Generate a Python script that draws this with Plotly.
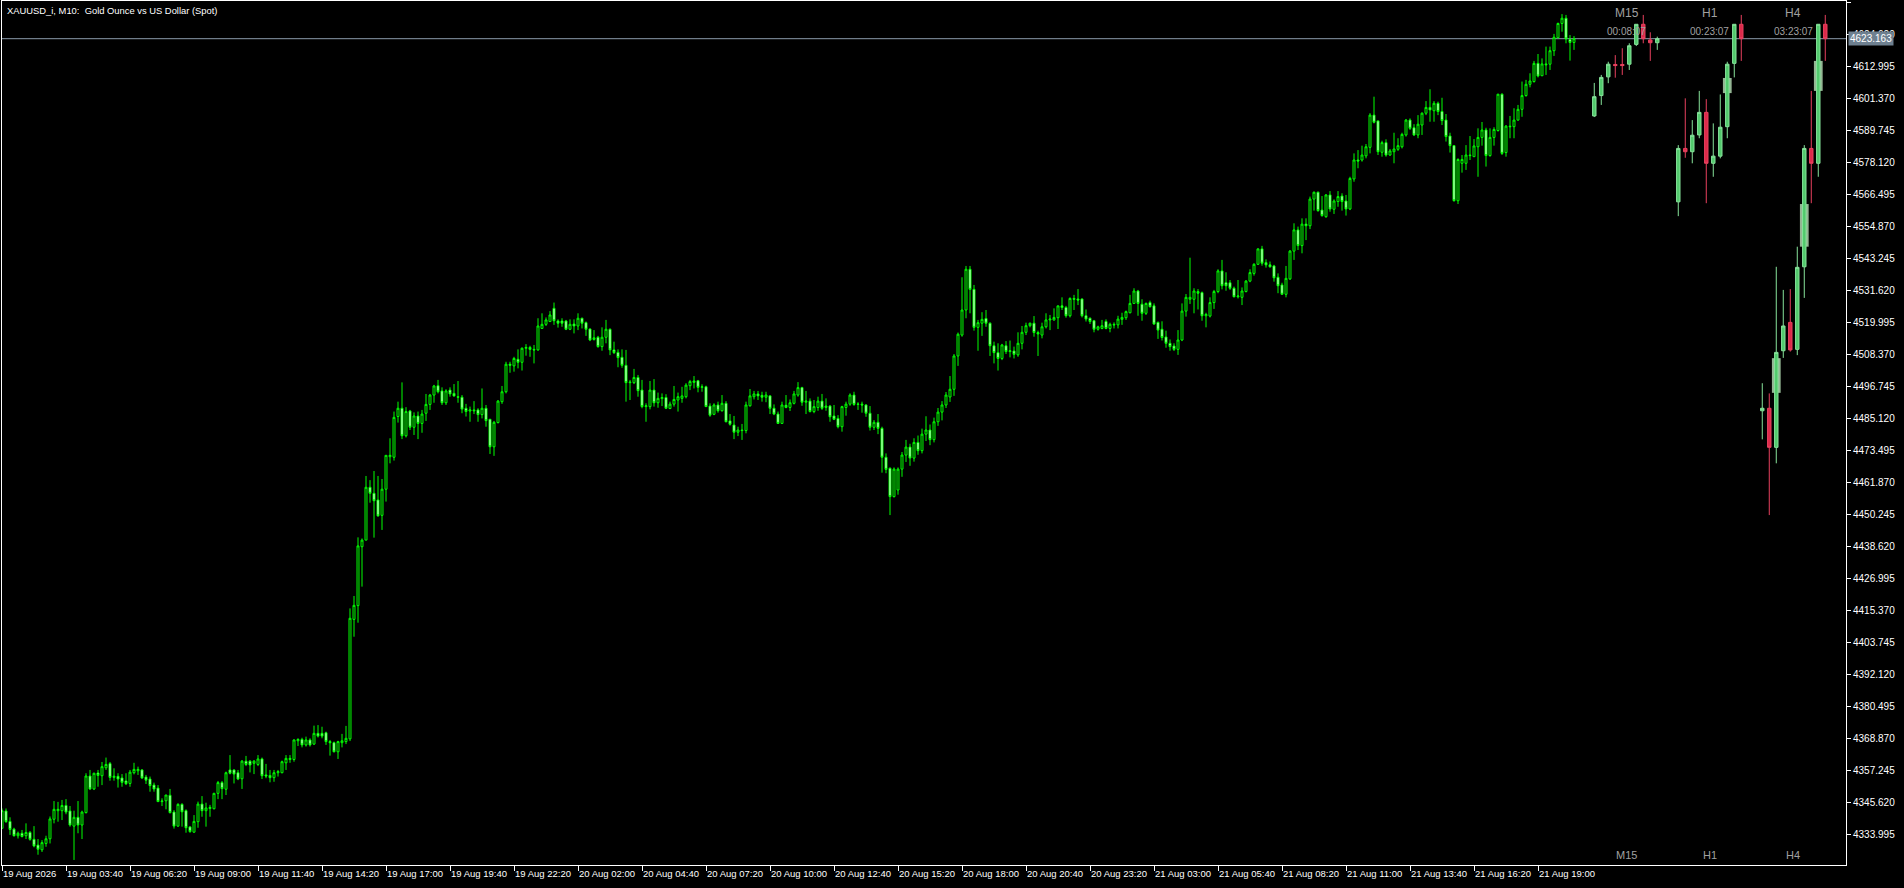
import plotly.graph_objects as go

# ---------------- main M10 candles (XAUUSD) ----------------
opens = [
4336.3,4342.6,4338.8,4336.0,4333.6,4334.5,4333.6,4334.8,4332.3,4330.2,
4328.5,4330.8,4332.5,4339.6,4342.7,4342.7,4344.6,4342.6,4337.1,4340.3,
4337.5,4342.0,4355.3,4350.6,4356.4,4355.4,4358.3,4359.8,4354.8,4355.2,
4354.6,4353.5,4352.6,4356.5,4357.2,4357.5,4354.9,4354.2,4352.0,4350.9,
4346.0,4346.3,4348.3,4342.2,4337.1,4345.0,4342.7,4336.8,4334.9,4338.7,
4345.1,4342.7,4343.5,4343.4,4349.0,4352.9,4350.5,4357.5,4357.5,4356.5,
4354.3,4360.7,4360.7,4359.9,4359.5,4361.5,4355.7,4355.5,4354.7,4356.5,
4356.5,4360.1,4361.3,4361.3,4368.1,4368.6,4366.6,4368.4,4366.9,4370.8,
4370.8,4371.0,4367.8,4367.4,4364.1,4367.4,4367.8,4368.8,4412.2,4417.2,
4438.6,4441.0,4460.2,4458.0,4455.6,4450.0,4459.5,4471.3,4471.1,4485.9,
4488.9,4478.9,4487.9,4482.0,4486.1,4483.4,4487.1,4490.3,4493.7,4497.1,
4495.2,4490.9,4495.5,4494.3,4493.1,4492.9,4488.9,4487.9,4488.3,4488.3,
4486.6,4488.9,4484.9,4474.9,4483.7,4491.3,4494.9,4504.9,4504.3,4506.7,
4505.6,4510.7,4511.0,4510.3,4510.1,4517.9,4519.4,4520.4,4525.2,4520.6,
4520.6,4520.6,4517.6,4519.5,4518.8,4521.6,4520.0,4517.7,4513.9,4514.7,
4511.3,4514.7,4517.6,4510.1,4509.2,4507.4,4504.5,4498.2,4498.2,4500.1,
4495.5,4489.5,4489.5,4495.5,4490.9,4492.4,4492.8,4488.8,4490.4,4491.9,
4492.5,4493.1,4497.1,4498.3,4498.9,4496.5,4496.7,4489.7,4486.7,4490.1,
4488.0,4490.7,4484.3,4482.8,4480.2,4481.0,4480.8,4489.8,4493.1,4494.1,
4493.6,4492.9,4493.4,4488.9,4486.8,4483.4,4490.0,4489.2,4490.7,4493.7,
4496.4,4491.1,4491.5,4487.7,4489.2,4491.5,4489.2,4489.7,4486.1,4485.2,
4482.2,4489.2,4490.4,4493.7,4490.3,4490.4,4490.1,4487.1,4482.0,4483.8,
4481.6,4471.1,4467.1,4456.8,4459.2,4466.8,4471.9,4474.8,4470.8,4476.5,
4473.5,4479.5,4481.0,4477.5,4484.0,4487.5,4490.1,4493.0,4495.8,4507.9,
4515.5,4524.6,4539.4,4532.1,4518.3,4519.8,4521.5,4519.8,4511.6,4509.1,
4507.0,4511.6,4509.5,4509.7,4508.3,4512.5,4516.5,4518.9,4519.8,4516.4,
4515.5,4518.5,4521.0,4521.0,4521.8,4526.1,4525.5,4522.5,4528.8,4528.6,
4528.6,4522.5,4521.6,4520.7,4517.6,4517.9,4520.4,4517.9,4519.4,4519.2,
4521.2,4521.8,4523.6,4527.0,4531.5,4526.7,4523.4,4527.3,4526.1,4520.1,
4517.6,4514.8,4512.5,4511.5,4510.3,4513.7,4524.2,4528.5,4528.5,4531.3,
4530.9,4522.5,4522.4,4527.3,4531.3,4538.8,4534.5,4534.5,4532.5,4529.4,
4529.2,4531.3,4535.1,4537.9,4541.2,4546.8,4541.8,4541.0,4540.6,4536.5,
4533.7,4530.3,4535.9,4546.0,4553.7,4548.0,4555.8,4555.2,4564.9,4567.4,
4560.9,4558.5,4566.4,4561.2,4564.0,4566.0,4564.2,4561.3,4572.2,4579.1,
4579.1,4580.6,4583.7,4595.4,4593.3,4581.9,4585.4,4580.9,4582.1,4583.0,
4583.9,4588.2,4593.6,4590.8,4588.2,4591.8,4596.1,4598.2,4597.0,4599.7,
4596.7,4593.6,4587.8,4584.3,4564.3,4577.9,4577.9,4580.9,4580.3,4583.9,
4587.3,4590.0,4580.7,4587.3,4589.8,4603.0,4581.8,4591.4,4591.2,4593.6,
4597.5,4602.5,4606.6,4607.6,4614.2,4609.7,4614.0,4613.9,4618.8,4623.5,
4628.7,4630.6,4622.9,4621.8]

highs = [
4343.5,4343.5,4340.3,4336.5,4335.1,4335.7,4338.1,4335.3,4337.1,4332.4,
4332.0,4333.6,4340.6,4346.2,4345.9,4346.6,4346.9,4344.4,4342.7,4346.2,
4342.7,4356.3,4357.5,4356.5,4357.5,4360.4,4362.0,4360.4,4358.1,4356.3,
4356.0,4356.3,4357.5,4360.1,4358.7,4357.8,4355.7,4355.1,4352.9,4352.0,
4347.2,4348.4,4350.6,4342.9,4345.4,4345.4,4343.2,4337.1,4341.1,4346.0,
4348.0,4345.6,4344.8,4349.2,4353.5,4353.5,4356.9,4362.9,4357.7,4357.5,
4361.1,4362.6,4361.1,4361.1,4362.9,4362.0,4359.7,4357.5,4357.5,4357.5,
4360.9,4362.9,4362.9,4368.6,4369.0,4369.2,4369.6,4369.0,4373.6,4373.8,
4373.2,4371.4,4368.4,4367.8,4368.1,4370.6,4373.5,4416.2,4420.7,4442.0,
4441.6,4464.3,4462.8,4466.1,4464.3,4463.2,4471.8,4478.0,4487.7,4491.3,
4498.3,4489.3,4488.3,4487.4,4487.7,4488.3,4494.1,4494.1,4497.4,4499.2,
4496.5,4495.8,4496.5,4497.7,4498.8,4493.7,4490.5,4489.5,4491.5,4488.9,
4496.1,4490.1,4484.9,4484.3,4491.9,4497.0,4505.8,4505.8,4507.6,4510.3,
4511.0,4512.2,4511.6,4511.9,4521.6,4523.4,4521.9,4524.2,4527.3,4521.2,
4521.6,4521.0,4521.2,4521.2,4523.4,4521.8,4520.4,4517.9,4517.3,4515.2,
4518.3,4521.0,4517.9,4513.1,4510.3,4510.3,4510.1,4499.2,4503.2,4501.0,
4499.2,4490.7,4498.8,4499.5,4494.6,4494.3,4494.0,4491.3,4497.0,4494.6,
4496.7,4498.0,4499.2,4500.6,4499.2,4497.6,4497.1,4490.7,4490.7,4491.3,
4493.7,4491.5,4486.8,4486.1,4482.2,4483.2,4491.3,4495.9,4495.2,4495.2,
4494.9,4494.9,4493.7,4490.3,4487.7,4491.3,4493.7,4492.1,4495.2,4498.4,
4496.7,4495.2,4492.5,4491.9,4493.1,4494.1,4492.5,4490.1,4490.1,4486.4,
4489.8,4491.3,4494.3,4494.9,4491.1,4491.3,4490.4,4489.7,4484.6,4486.8,
4482.2,4472.5,4467.4,4467.4,4467.4,4473.0,4477.4,4476.0,4478.0,4479.0,
4481.5,4486.0,4483.0,4485.5,4489.0,4491.5,4494.8,4500.6,4508.6,4516.4,
4536.5,4540.6,4540.6,4533.7,4521.0,4523.8,4524.6,4520.1,4513.1,4512.5,
4512.3,4513.3,4513.5,4511.3,4516.5,4518.8,4520.0,4520.0,4522.4,4517.1,
4520.0,4523.4,4522.8,4525.2,4526.2,4529.2,4526.1,4529.2,4530.1,4532.2,
4528.8,4524.8,4521.9,4521.0,4518.9,4521.0,4521.2,4520.0,4520.1,4522.5,
4523.6,4524.4,4530.1,4532.5,4531.9,4528.5,4527.3,4528.0,4527.0,4520.4,
4520.5,4517.1,4513.9,4512.5,4517.3,4527.0,4530.4,4543.6,4532.5,4532.2,
4531.3,4523.6,4529.2,4531.9,4539.4,4542.8,4538.3,4535.5,4533.1,4535.5,
4532.8,4535.5,4539.4,4541.6,4547.0,4547.9,4543.0,4542.2,4541.0,4537.9,
4534.5,4540.6,4546.4,4556.1,4554.9,4557.9,4557.9,4565.8,4567.6,4567.6,
4566.0,4566.7,4567.8,4564.8,4567.8,4567.0,4566.4,4573.0,4581.5,4582.7,
4584.3,4584.9,4596.1,4602.1,4593.4,4586.1,4586.6,4583.1,4589.0,4587.0,
4589.0,4594.0,4594.2,4592.1,4595.4,4596.4,4600.5,4604.8,4600.5,4600.3,
4601.7,4595.8,4589.0,4584.5,4579.7,4580.9,4584.5,4587.8,4586.7,4590.6,
4592.9,4590.8,4590.6,4591.0,4603.1,4603.3,4591.8,4595.1,4597.9,4599.1,
4607.6,4608.2,4610.6,4615.1,4617.6,4616.0,4620.3,4620.3,4624.9,4629.0,
4632.1,4631.8,4624.5,4624.1]

lows = [
4336.3,4338.3,4333.9,4333.3,4332.6,4333.0,4332.4,4331.8,4329.4,4326.7,
4327.7,4329.6,4330.8,4338.1,4338.7,4339.3,4341.4,4336.9,4324.8,4334.5,
4332.4,4341.7,4350.2,4350.2,4351.4,4352.0,4357.5,4353.6,4353.6,4351.1,
4351.4,4352.0,4351.4,4355.9,4355.7,4354.2,4352.4,4349.6,4349.6,4345.9,
4344.4,4343.2,4341.7,4336.2,4336.9,4336.9,4334.7,4334.7,4334.7,4336.5,
4340.5,4336.9,4340.5,4343.2,4346.9,4346.9,4348.4,4355.9,4352.6,4353.8,
4350.6,4358.9,4356.6,4356.0,4358.9,4354.2,4354.5,4353.0,4353.2,4355.1,
4356.3,4357.5,4360.1,4360.5,4366.2,4365.7,4366.0,4366.0,4366.6,4369.3,
4369.0,4366.6,4362.7,4363.9,4361.5,4365.7,4366.9,4368.0,4405.9,4411.0,
4424.1,4441.0,4454.6,4441.9,4449.5,4444.7,4455.0,4468.9,4469.9,4483.7,
4477.7,4478.3,4481.0,4479.2,4477.7,4480.0,4484.3,4488.3,4490.9,4494.3,
4490.1,4490.1,4493.1,4493.1,4490.9,4487.1,4485.9,4484.0,4486.8,4484.0,
4485.2,4482.2,4472.3,4471.6,4483.4,4490.5,4494.3,4501.8,4502.2,4503.4,
4502.6,4508.0,4507.6,4505.2,4509.8,4517.9,4518.8,4520.4,4519.2,4518.2,
4518.5,4517.3,4517.3,4516.1,4517.3,4517.9,4515.2,4513.3,4513.5,4510.9,
4509.8,4512.5,4508.2,4508.6,4503.8,4503.6,4491.3,4491.9,4497.7,4493.1,
4488.9,4484.0,4488.5,4489.5,4489.1,4489.7,4488.6,4488.6,4489.5,4487.7,
4490.9,4492.5,4495.5,4496.1,4494.7,4494.9,4489.5,4485.8,4486.4,4487.3,
4487.7,4483.8,4482.6,4477.7,4478.8,4477.4,4479.8,4489.5,4492.1,4491.9,
4491.3,4491.1,4486.8,4486.4,4483.2,4483.2,4488.9,4487.9,4490.3,4493.1,
4489.8,4486.8,4487.4,4487.1,4488.0,4488.3,4488.0,4484.0,4484.6,4481.6,
4480.4,4486.2,4489.8,4489.8,4488.3,4487.3,4485.8,4480.8,4481.0,4479.5,
4465.5,4465.3,4450.1,4456.5,4457.5,4464.0,4469.4,4468.0,4469.5,4472.0,
4472.5,4477.0,4475.5,4476.5,4482.5,4484.5,4489.0,4491.2,4493.4,4504.3,
4514.9,4521.6,4523.4,4517.1,4509.8,4515.2,4518.5,4507.9,4505.2,4502.6,
4506.4,4508.6,4507.4,4507.0,4507.6,4510.3,4515.5,4518.3,4514.9,4507.9,
4514.3,4517.9,4517.3,4520.7,4517.7,4524.6,4521.8,4521.9,4524.6,4526.4,
4521.9,4520.4,4519.5,4516.5,4517.1,4517.6,4517.6,4516.5,4517.9,4517.9,
4519.2,4521.0,4523.4,4526.8,4522.5,4520.7,4522.8,4525.5,4519.2,4514.1,
4513.5,4510.9,4509.8,4509.7,4508.3,4513.3,4522.2,4526.8,4523.4,4524.8,
4520.7,4518.3,4521.9,4525.0,4530.7,4532.1,4531.6,4531.9,4529.2,4528.8,
4526.4,4531.0,4534.7,4537.1,4541.0,4540.7,4540.0,4540.0,4534.9,4530.7,
4530.1,4529.2,4535.5,4542.8,4546.4,4545.2,4550.0,4554.0,4560.7,4560.3,
4558.5,4558.1,4560.3,4559.5,4562.1,4560.7,4558.9,4560.9,4571.2,4576.1,
4578.5,4579.7,4581.5,4592.4,4580.9,4580.3,4580.3,4580.6,4577.9,4582.4,
4583.3,4587.6,4590.0,4587.8,4587.0,4588.2,4595.4,4593.0,4593.0,4595.4,
4591.8,4585.8,4581.8,4564.0,4563.1,4574.5,4575.5,4579.1,4580.3,4573.0,
4584.3,4576.7,4580.3,4584.3,4589.4,4580.9,4580.3,4587.0,4587.0,4593.4,
4594.8,4602.1,4605.5,4607.2,4609.1,4609.6,4610.0,4611.8,4616.9,4623.3,
4625.7,4621.5,4615.2,4619.1]

closes = [
4342.7,4338.7,4335.9,4333.6,4334.5,4333.3,4334.8,4332.3,4329.9,4328.7,
4331.1,4332.5,4339.7,4343.2,4343.2,4344.6,4342.2,4337.5,4340.3,4337.5,
4342.2,4355.3,4350.6,4356.3,4355.5,4358.7,4359.5,4354.8,4355.2,4354.2,
4353.0,4352.5,4356.7,4357.7,4357.7,4354.6,4353.8,4351.8,4350.6,4346.0,
4346.2,4348.4,4342.0,4337.1,4345.0,4342.3,4336.5,4335.1,4338.8,4345.1,
4342.7,4343.7,4343.9,4349.0,4352.9,4350.7,4356.5,4356.3,4356.0,4354.2,
4360.7,4359.5,4359.3,4360.7,4361.5,4355.4,4355.3,4354.7,4356.5,4356.9,
4360.5,4361.7,4361.7,4368.4,4368.6,4366.6,4368.4,4366.6,4370.8,4369.8,
4369.8,4367.8,4367.4,4364.1,4367.8,4368.1,4369.0,4412.6,4417.3,4438.9,
4441.0,4460.2,4458.0,4455.3,4449.8,4459.5,4471.8,4471.8,4485.6,4488.9,
4478.9,4487.7,4482.0,4486.1,4483.4,4486.8,4490.3,4493.7,4497.0,4494.9,
4490.9,4495.2,4494.1,4493.4,4492.9,4488.6,4487.7,4488.3,4488.0,4486.6,
4488.9,4484.4,4474.9,4483.8,4491.5,4494.9,4504.9,4504.5,4507.0,4505.6,
4510.7,4511.0,4510.3,4510.1,4518.8,4519.4,4521.0,4522.8,4520.7,4519.8,
4519.8,4517.6,4519.4,4518.8,4521.6,4519.8,4517.6,4513.7,4514.5,4511.3,
4514.7,4517.6,4510.1,4509.1,4507.3,4504.5,4498.2,4498.4,4500.1,4495.3,
4489.5,4489.8,4495.5,4490.9,4492.5,4492.8,4488.9,4490.4,4492.1,4493.1,
4493.4,4497.3,4498.6,4498.8,4496.5,4496.7,4489.5,4486.4,4490.1,4488.0,
4490.7,4484.0,4483.1,4480.2,4481.0,4480.8,4490.1,4493.4,4494.1,4493.4,
4492.9,4493.7,4488.9,4486.8,4483.4,4490.1,4489.2,4490.9,4494.1,4496.4,
4491.1,4491.5,4487.7,4489.5,4491.5,4488.9,4489.7,4485.8,4484.9,4482.2,
4489.5,4490.4,4493.7,4490.3,4490.4,4490.1,4487.1,4482.0,4483.8,4481.6,
4471.1,4466.7,4456.8,4466.8,4466.8,4471.9,4474.8,4470.8,4476.5,4473.5,
4479.5,4481.0,4477.5,4484.0,4487.5,4490.1,4493.7,4495.8,4507.9,4515.8,
4524.6,4539.4,4532.1,4518.3,4520.0,4521.2,4519.8,4511.6,4509.1,4507.0,
4511.9,4509.5,4509.8,4508.5,4512.5,4516.5,4518.9,4519.8,4516.4,4515.9,
4518.5,4521.0,4521.3,4521.9,4526.1,4525.5,4522.5,4528.8,4528.5,4528.2,
4522.5,4521.3,4520.4,4517.6,4518.5,4518.9,4517.9,4519.4,4519.2,4521.3,
4521.9,4524.0,4527.0,4531.5,4527.0,4523.4,4527.0,4525.8,4519.5,4517.3,
4514.6,4512.5,4511.3,4510.3,4513.7,4524.2,4529.2,4529.2,4531.5,4530.7,
4522.5,4523.0,4527.3,4531.3,4538.8,4533.4,4533.4,4532.5,4529.4,4529.7,
4531.5,4535.1,4538.2,4541.2,4546.8,4541.6,4541.0,4540.3,4536.3,4533.4,
4530.3,4536.1,4546.0,4553.7,4548.0,4555.8,4555.2,4564.9,4567.4,4560.7,
4558.9,4566.4,4561.3,4564.2,4565.8,4564.0,4561.3,4572.4,4579.1,4578.7,
4580.9,4583.9,4595.4,4592.8,4582.1,4585.4,4580.9,4582.4,4583.1,4584.3,
4588.4,4593.6,4590.6,4588.2,4592.1,4596.1,4598.2,4597.3,4599.7,4596.7,
4593.4,4587.6,4584.3,4564.3,4579.3,4579.3,4580.9,4580.7,4584.2,4587.3,
4590.0,4580.7,4587.3,4590.2,4603.0,4581.5,4591.4,4591.2,4593.6,4597.5,
4602.5,4606.6,4607.8,4614.2,4609.6,4614.0,4613.7,4618.8,4623.7,4628.7,
4630.6,4623.1,4621.8,4623.163]

bar_index = list(range(len(closes)))

# ---------------- time axis ----------------
time_tick_index = [0, 16, 32, 48, 64, 80, 96, 112, 128, 144, 160, 176, 192,
                   208, 224, 240, 256, 272, 288, 304, 320, 336, 352, 368, 384]
time_tick_labels = [
    "19 Aug 2026", "19 Aug 03:40", "19 Aug 06:20", "19 Aug 09:00", "19 Aug 11:40",
    "19 Aug 14:20", "19 Aug 17:00", "19 Aug 19:40", "19 Aug 22:20", "20 Aug 02:00",
    "20 Aug 04:40", "20 Aug 07:20", "20 Aug 10:00", "20 Aug 12:40", "20 Aug 15:20",
    "20 Aug 18:00", "20 Aug 20:40", "20 Aug 23:20", "21 Aug 03:00", "21 Aug 05:40",
    "21 Aug 08:20", "21 Aug 11:00", "21 Aug 13:40", "21 Aug 16:20", "21 Aug 19:00"]

# ---------------- price axis ----------------
price_tick_labels = [
    "4333.995", "4345.620", "4357.245", "4368.870", "4380.495", "4392.120",
    "4403.745", "4415.370", "4426.995", "4438.620", "4450.245", "4461.870",
    "4473.495", "4485.120", "4496.745", "4508.370", "4519.995", "4531.620",
    "4543.245", "4554.870", "4566.495", "4578.120", "4589.745", "4601.370",
    "4612.995", "4624.620", "4636.245"]
price_tick_values = [float(s) for s in price_tick_labels]
current_price = 4623.163

# ---------------- higher-timeframe overlay (M15 / H1 / H4) ----------------
mini_slot = [0, 1, 2, 3, 4, 5, 6, 7, 8, 9,
             12, 13, 14, 15, 16, 17, 18, 19, 20, 21,
             24, 25, 26, 27, 28, 29, 30, 31, 32, 33]
mini_open = [4595.1, 4602.5, 4609.3, 4613.8, 4613.8, 4613.9, 4621.1, 4628.4, 4622.7, 4621.7,
             4563.9, 4583.3, 4582.1, 4588.2, 4596.4, 4577.9, 4580.5, 4591.2, 4614.2, 4628.4,
             4488.0, 4488.9, 4474.7, 4509.8, 4520.1, 4510.3, 4540.3, 4583.3, 4577.9, 4628.4]
mini_high = [4607.1, 4610.0, 4614.8, 4617.2, 4619.7, 4621.5, 4628.4, 4631.8, 4625.5, 4623.9,
             4584.5, 4601.5, 4593.6, 4604.2, 4601.2, 4592.4, 4602.9, 4614.8, 4628.4, 4631.8,
             4498.0, 4494.3, 4540.3, 4531.9, 4532.2, 4547.6, 4584.5, 4604.2, 4628.4, 4631.8]
mini_low = [4594.7, 4599.1, 4607.0, 4609.0, 4610.0, 4611.8, 4620.5, 4621.5, 4615.1, 4619.1,
            4558.7, 4579.9, 4577.9, 4587.0, 4563.4, 4573.0, 4579.7, 4587.0, 4609.1, 4615.1,
            4477.6, 4450.1, 4468.9, 4507.2, 4509.5, 4508.2, 4529.0, 4563.4, 4573.0, 4615.1]
mini_close = [4602.1, 4609.1, 4613.9, 4613.4, 4613.4, 4620.6, 4628.4, 4623.163, 4621.7, 4623.163,
              4583.3, 4582.1, 4588.1, 4596.4, 4577.9, 4580.5, 4591.0, 4613.9, 4628.4, 4623.163,
              4488.9, 4474.7, 4509.2, 4518.8, 4510.1, 4540.1, 4583.3, 4577.9, 4628.4, 4623.163]
ghost_slot = [19, 26, 30, 32]
ghost_low = [4603.4, 4494.5, 4547.6, 4604.2]
ghost_high = [4608.9, 4507.1, 4563.1, 4615.1]

panel_names = ["M15", "H1", "H4"]
panel_timers = ["00:08:07", "00:23:07", "03:23:07"]
panel_center_slot = [4.67, 16.5, 28.4]

FONT = "Liberation Sans"

fig = go.Figure()

fig.add_trace(go.Candlestick(
    x=bar_index, open=opens, high=highs, low=lows, close=closes,
    increasing=dict(line=dict(color="#00ff00", width=1), fillcolor="#000000"),
    decreasing=dict(line=dict(color="#00ff00", width=1), fillcolor="#ffffff"),
    whiskerwidth=0, hoverinfo="skip", showlegend=False,
    xaxis="x", yaxis="y"))

fig.add_trace(go.Bar(
    x=ghost_slot, base=ghost_low,
    y=[h - l for h, l in zip(ghost_high, ghost_low)],
    width=1.25, marker=dict(color="rgba(185,228,185,0.8)", line=dict(width=0)),
    hoverinfo="skip", showlegend=False, xaxis="x2", yaxis="y"))

fig.add_trace(go.Candlestick(
    x=mini_slot, open=mini_open, high=mini_high, low=mini_low, close=mini_close,
    increasing=dict(line=dict(color="#86e39a", width=1), fillcolor="#52c96c"),
    decreasing=dict(line=dict(color="#e8405e", width=1), fillcolor="#dc2a4a"),
    whiskerwidth=0, hoverinfo="skip", showlegend=False,
    xaxis="x2", yaxis="y"))

annotations = [
    dict(text="XAUUSD_i, M10:\u00a0 Gold Ounce vs US Dollar (Spot)",
         xref="paper", yref="paper", x=0, y=1, xanchor="left", yanchor="top",
         xshift=3, yshift=-2, showarrow=False,
         font=dict(family=FONT, size=9.4, color="#ffffff")),
    dict(text=f"{current_price:.3f}", xref="paper", yref="y", x=1, y=current_price,
         xanchor="left", yanchor="middle", xshift=2, showarrow=False,
         bgcolor="#6e8090", borderpad=1,
         font=dict(family=FONT, size=10, color="#ffffff")),
]
for name, timer, slot in zip(panel_names, panel_timers, panel_center_slot):
    annotations.append(dict(text=name, xref="x2", yref="paper", x=slot, y=0.986,
                            xanchor="center", yanchor="middle", showarrow=False,
                            font=dict(family=FONT, size=12, color="#a0a0a0")))
    annotations.append(dict(text=timer, xref="x2", yref="paper", x=slot, y=0.965,
                            xanchor="center", yanchor="middle", showarrow=False,
                            font=dict(family=FONT, size=10, color="#a0a0a0")))
    annotations.append(dict(text=name, xref="x2", yref="paper", x=slot, y=0.0115,
                            xanchor="center", yanchor="middle", showarrow=False,
                            font=dict(family=FONT, size=11, color="#a0a0a0")))

fig.update_layout(
    width=1904, height=888,
    paper_bgcolor="#000000", plot_bgcolor="#000000",
    margin=dict(l=2, r=58, t=1, b=23, pad=0),
    showlegend=False,
    annotations=annotations,
    shapes=[dict(type="line", xref="paper", yref="y", x0=0, x1=1,
                 y0=current_price, y1=current_price, layer="below",
                 line=dict(color="#8a9aaa", width=1))],
    xaxis=dict(range=[0, 461], tickmode="array", tickvals=time_tick_index,
               ticktext=time_tick_labels, ticks="outside", ticklen=5,
               tickcolor="#ffffff", ticklabelposition="outside right",
               tickangle=0,
               tickfont=dict(family=FONT, size=9.5, color="#ffffff"),
               showgrid=False, zeroline=False, showline=True, mirror=True,
               linecolor="#ffffff", linewidth=1,
               rangeslider=dict(visible=False), fixedrange=True),
    xaxis2=dict(range=[-227.47, 35.96], overlaying="x", anchor="y",
                visible=False, showgrid=False, zeroline=False,
                rangeslider=dict(visible=False), fixedrange=True),
    yaxis=dict(side="right", range=[4322.97, 4636.86], tickmode="array",
               tickvals=price_tick_values, ticktext=price_tick_labels,
               ticks="outside", ticklen=4, tickcolor="#ffffff",
               tickfont=dict(family=FONT, size=10, color="#ffffff"),
               showgrid=False, zeroline=False, showline=True, mirror=True,
               linecolor="#ffffff", linewidth=1, fixedrange=True),
)

fig.write_html(
    "out.html",
    config={"displayModeBar": False, "staticPlot": True},
    post_script="document.body.style.margin='0';document.body.style.overflow='hidden';",
)
